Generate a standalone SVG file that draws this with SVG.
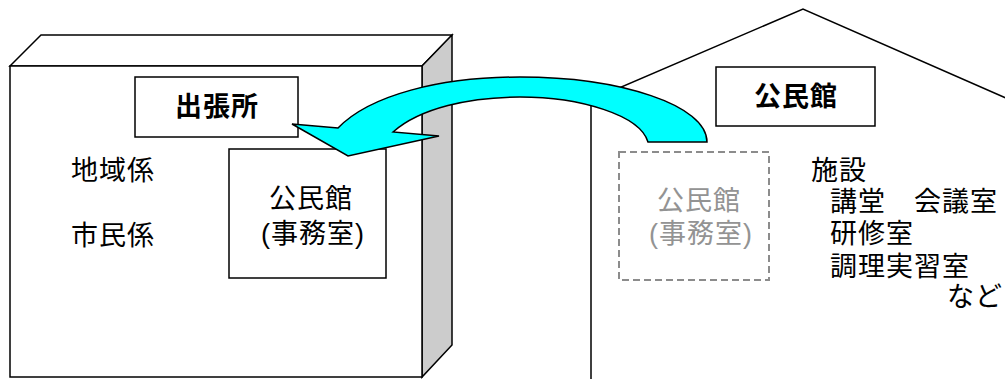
<svg xmlns="http://www.w3.org/2000/svg" width="1005" height="379" viewBox="0 0 1005 379">
<style>
.ln{fill:none;stroke:#000;stroke-width:1.5}
.bx{fill:#fff;stroke:#000;stroke-width:1.5}
.t{font-family:"Liberation Sans","Noto Sans CJK JP","Noto Sans CJK SC",sans-serif;font-size:27px;fill:#000;letter-spacing:1px}
.b{font-weight:bold}
.g{fill:#939393}
.m{text-anchor:middle}
</style>
<rect width="1005" height="379" fill="#fff"/>
<g id="branch-office-building">
<polygon class="bx" points="10,66 41,35 452,35 422,66"/>
<polygon points="422,66 452,35 452,345 422,377" fill="#cccccc" stroke="#000" stroke-width="1.5"/>
<rect class="bx" x="10" y="66" width="412" height="311"/>
</g>
<g id="community-hall-building">
<polyline class="ln" points="591,379 591,100 803,9 1015,102"/>
</g>
<g id="node-branch">
<rect class="bx" x="135" y="77" width="163" height="60"/>
<text class="t b m" x="217" y="116">出張所</text>
</g>
<g id="node-chiiki">
<text class="t" x="71" y="180">地域係</text>
</g>
<g id="node-shimin">
<text class="t" x="71" y="245">市民係</text>
</g>
<g id="node-office-new">
<rect class="bx" x="229" y="149" width="157" height="129"/>
<text class="t m" x="311" y="208">公民館</text>
<text class="t m" x="313" y="243">(事務室)</text>
</g>
<g id="node-hall">
<rect class="bx" x="716" y="67" width="159" height="59"/>
<text class="t b m" x="796" y="106">公民館</text>
</g>
<g id="node-office-old">
<rect x="619" y="152" width="150" height="128" fill="none" stroke="#8c8c8c" stroke-width="2" stroke-dasharray="7,4"/>
<text class="t g m" x="699" y="210">公民館</text>
<text class="t g m" x="701" y="243">(事務室)</text>
</g>
<g id="node-facilities">
<text class="t" x="811" y="180">施設</text>
<text class="t" x="830" y="211">講堂　会議室</text>
<text class="t" x="830" y="243">研修室</text>
<text class="t" x="830" y="276">調理実習室</text>
<text class="t" x="947" y="306">など</text>
</g>
<g id="connectors">
<path d="M707,142 C707,105 620,77 520,77 C440,77 370,95 338,128 L292,124 L348,156 L439,136 L393,132 C420,108 470,97 520,97 C580,97 640,115 648,142 Z" fill="#00ffff" stroke="#000" stroke-width="1.5" stroke-linejoin="miter"/>
</g>
</svg>
